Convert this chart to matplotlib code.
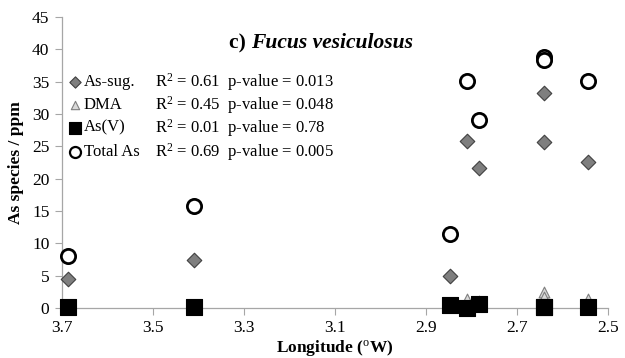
import matplotlib
matplotlib.use("Agg")
import matplotlib.pyplot as plt

plt.rcParams["font.family"] = ["Liberation Serif", "DejaVu Serif"]
plt.rcParams["mathtext.fontset"] = "custom"
plt.rcParams["mathtext.rm"] = "Liberation Serif"
plt.rcParams["mathtext.it"] = "Liberation Serif:italic"
plt.rcParams["mathtext.bf"] = "Liberation Serif:bold"

# longitude (degrees W) of each sampling site
longitude = [3.687, 3.41, 2.847, 2.81, 2.783, 2.641, 2.641, 2.544]
as_sug = [4.4, 7.4, 5.0, 25.8, 21.6, 33.3, 25.6, 22.6]
dma = [0.3, 0.4, 0.3, 1.3, 1.1, 2.4, 1.7, 1.3]
as_v = [0.2, 0.2, 0.5, 0.0, 0.6, 0.2, 0.2, 0.1]
total_as = [8.0, 15.7, 11.5, 35.1, 29.0, 38.8, 38.4, 35.1]

series_names = ["As-sug.", "DMA", "As(V)", "Total As"]
r2_values = ["0.61", "0.45", "0.01", "0.69"]
p_values = ["0.013", "0.048", "0.78", "0.005"]

x_ticks = [3.7, 3.5, 3.3, 3.1, 2.9, 2.7, 2.5]
y_ticks = [0, 5, 10, 15, 20, 25, 30, 35, 40, 45]

styles = [
    dict(marker="D", s=55, facecolor="#7f7f7f", edgecolor="#404040", linewidths=0.8),
    dict(marker="^", s=60, facecolor="#d9d9d9", edgecolor="#7f7f7f", linewidths=0.8),
    dict(marker="s", s=120, facecolor="black", edgecolor="black", linewidths=0.8),
    dict(marker="o", s=105, facecolor="white", edgecolor="black", linewidths=2.0),
]

fig = plt.figure(figsize=(6.25, 3.58), dpi=100)
ax = fig.add_axes([0.099, 0.14, 0.874, 0.8125])

for values, style in zip([as_sug, dma, as_v, total_as], styles):
    ax.scatter(longitude, values, zorder=3, clip_on=False, **style)

ax.set_xlim(3.7, 2.5)
ax.set_ylim(0, 45)
ax.set_xticks(x_ticks)
ax.set_xticklabels([f"{t:.1f}" for t in x_ticks])
ax.set_yticks(y_ticks)
ax.tick_params(labelsize=12.5, length=5, color="#a6a6a6", width=0.8, pad=4)

for side in ("top", "right"):
    ax.spines[side].set_visible(False)
for side in ("left", "bottom"):
    ax.spines[side].set_color("#a6a6a6")
    ax.spines[side].set_linewidth(0.9)

ax.set_xlabel("Longitude ($^{\\mathrm{o}}$W)", fontsize=12.5, fontweight="bold", labelpad=1)
ax.set_ylabel("As species / ppm", fontsize=12.5, fontweight="bold", labelpad=6)

# title: "c)" bold, species name bold italic
title_a = ax.text(0.306, 0.91, "c) ", transform=ax.transAxes,
                  ha="left", va="center", fontsize=15.5, fontweight="bold")
ax.annotate("Fucus vesiculosus", xy=(1, 0), xycoords=title_a, ha="left", va="bottom",
            fontsize=15.5, fontweight="bold", fontstyle="italic")

# legend drawn by hand so the R2 / p-value columns line up
row_y = [0.777, 0.698, 0.619, 0.537]
for y, name, r2, p, style in zip(row_y, series_names, r2_values, p_values, styles):
    leg_style = dict(style)
    leg_style["s"] = style["s"] * 0.6
    leg_style["linewidths"] = min(style["linewidths"], 1.6)
    ax.scatter([0.024], [y], transform=ax.transAxes, clip_on=False, zorder=4, **leg_style)
    ax.text(0.040, y, name, transform=ax.transAxes, ha="left", va="center", fontsize=12)
    ax.text(0.170, y, f"R$^2$ = {r2}  p-value = {p}", transform=ax.transAxes,
            ha="left", va="center", fontsize=12)

fig.savefig("out.png", dpi=100)
